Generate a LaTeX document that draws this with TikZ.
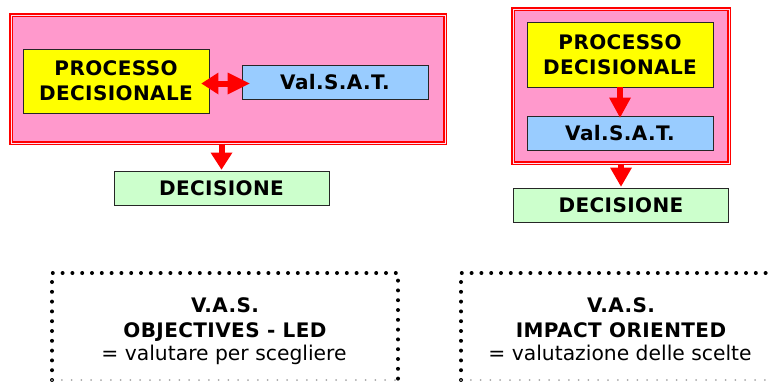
\documentclass[tikz,border=0pt]{standalone}
\usepackage{fontspec}
\setmainfont{DejaVu Sans}
\newfontfamily\boxfont[LetterSpace=2]{DejaVu Sans}
\usetikzlibrary{calc}
\definecolor{pinkfill}{HTML}{FF99CC}
\definecolor{yelfill}{HTML}{FFFF00}
\definecolor{bluefill}{HTML}{99CCFF}
\definecolor{greenfill}{HTML}{CCFFCC}
\definecolor{arrred}{HTML}{FF0000}
\tikzset{
  grpbox/.style={draw=arrred, line width=1.2pt, double=white!70!pinkfill, double distance=1pt, fill=pinkfill, inner sep=0pt},
  txtbox/.style={draw=black!85, line width=0.9pt, inner sep=0pt, align=center, font=\boxfont\bfseries\fontsize{20}{25}\selectfont},
  shaft/.style={draw=arrred, line width=6pt},
  headfill/.style={fill=arrred},
  dotline/.style={draw=black, line width=4pt, line cap=round, dash pattern=on 0pt off 9.8pt},
  dotgray/.style={draw=black!35, line width=2pt, line cap=round, dash pattern=on 0pt off 9.8pt},
  btxt/.style={inner sep=0pt, font=\boxfont\bfseries\fontsize{20}{24}\selectfont},
  rtxt/.style={inner sep=0pt, font=\fontsize{20.3}{24}\selectfont}
}
\begin{document}
\begin{tikzpicture}[x=1pt,y=-1pt]
\useasboundingbox (0,0) rectangle (771,381);
\clip (0,0) rectangle (771,381);
% left group
\node[grpbox, minimum width=434pt, minimum height=128pt] (grp1) at (228,79) {};
\node[txtbox, fill=yelfill, minimum width=186pt, minimum height=64pt] (pd1) at (116,81) {PROCESSO\\DECISIONALE};
\node[txtbox, fill=bluefill, minimum width=186pt, minimum height=34pt] (vs1) at (335,82) {Val.S.A.T.};
\node[txtbox, fill=greenfill, minimum width=215pt, minimum height=34pt] (de1) at (221.5,188) {DECISIONE};
% double arrow between PROCESSO DECISIONALE and Val.S.A.T.
\coordinate (m1) at (226,83.5);
\coordinate (tl) at ([xshift=-8pt]m1 -| pd1.east);
\coordinate (tr) at ([xshift=8pt]m1 -| vs1.west);
\draw[shaft] ([xshift=16pt]tl) -- ([xshift=-21pt]tr);
\fill[headfill] (tl) -- ([xshift=17pt,yshift=11pt]tl) -- ([xshift=17pt,yshift=-11pt]tl) -- cycle;
\fill[headfill] (tr) -- ([xshift=-22pt,yshift=11pt]tr) -- ([xshift=-22pt,yshift=-11pt]tr) -- cycle;
% arrow to DECISIONE
\draw[shaft] (grp1.south -| de1.north) -- ([yshift=17pt]de1.north);
\fill[headfill] ([yshift=1pt]de1.north) -- ([xshift=-11pt,yshift=18pt]de1.north) -- ([xshift=11pt,yshift=18pt]de1.north) -- cycle;
% right group
\node[grpbox, minimum width=216pt, minimum height=154pt] (grp2) at (621,86) {};
\node[txtbox, fill=yelfill, minimum width=186pt, minimum height=65pt] (pd2) at (620,54.5) {PROCESSO\\DECISIONALE};
\node[txtbox, fill=bluefill, minimum width=186pt, minimum height=34pt] (vs2) at (620,133) {Val.S.A.T.};
\node[txtbox, fill=greenfill, minimum width=215pt, minimum height=34pt] (de2) at (621,205) {DECISIONE};
\coordinate (t2) at ([yshift=-2pt]vs2.north);
\draw[shaft] (pd2.south) -- ([yshift=19pt]t2);
\fill[headfill] (t2) -- ([xshift=-11pt,yshift=20pt]t2) -- ([xshift=11pt,yshift=20pt]t2) -- cycle;
\draw[shaft] (grp2.south -| de2.north) -- ([yshift=19pt]de2.north);
\fill[headfill] ([yshift=1pt]de2.north) -- ([xshift=-11pt,yshift=20pt]de2.north) -- ([xshift=11pt,yshift=20pt]de2.north) -- cycle;
% bottom dotted boxes
\draw[dotline] (52,380) -- (52,273) -- (398,273) -- (398,380);
\draw[dotgray] (52,380) -- (398,380);
\draw[dotline] (461,380) -- (461,273) -- (800,273);
\draw[dotgray] (461,380) -- (800,380);
\node[btxt, anchor=base] (v1) at (225,312) {V.A.S.};
\node[btxt, anchor=base] (o1) at (225,337) {OBJECTIVES - LED};
\node[rtxt, anchor=base] (e1) at (224,360) {= valutare per scegliere};
\node[btxt, anchor=base] (v2) at (621,312) {V.A.S.};
\node[btxt, anchor=base] (o2) at (621,337) {IMPACT ORIENTED};
\node[rtxt, anchor=base] (e2) at (620,360) {= valutazione delle scelte};
\end{tikzpicture}
\end{document}
